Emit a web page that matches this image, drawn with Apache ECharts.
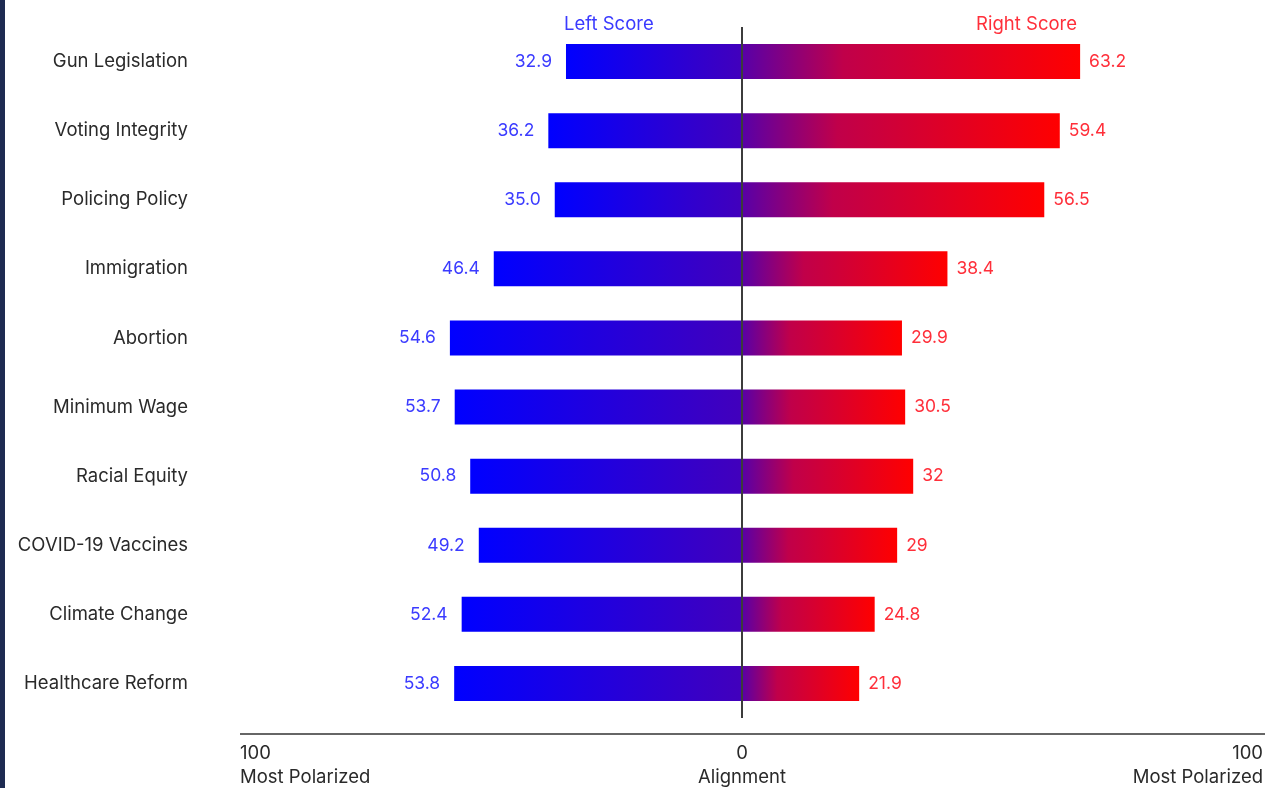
<!DOCTYPE html>
<html>
<head>
<meta charset="utf-8">
<title>Polarization by Issue</title>
<script src="https://cdn.jsdelivr.net/npm/echarts@6/dist/echarts.min.js"></script>
<style>
  html, body { margin: 0; padding: 0; background: #ffffff; }
  #chart { width: 1265px; height: 788px; }
</style>
</head>
<body>
<div id="chart"></div>
<script>
// Issues, top to bottom
const issues = [
  'Gun Legislation', 'Voting Integrity', 'Policing Policy', 'Immigration',
  'Abortion', 'Minimum Wage', 'Racial Equity', 'COVID-19 Vaccines',
  'Climate Change', 'Healthcare Reform'
];
// Left-leaning score per issue
const leftScores = [32.9, 36.2, 35.0, 46.4, 54.6, 53.7, 50.8, 49.2, 52.4, 53.8];
// Right-leaning score per issue
const rightScores = [63.2, 59.4, 56.5, 38.4, 29.9, 30.5, 32, 29, 24.8, 21.9];
// Bottom scale captions
const scaleEnds = ['100', 'Most Polarized'];
const scaleMid = ['0', 'Alignment'];

const FONT = 'Inter, "Noto Sans", sans-serif';
const BLUE_TEXT = '#3b3bff';
const RED_TEXT = '#ff2f3a';
const INK = '#2a2a2a';

const chart = echarts.init(document.getElementById('chart'), null, { renderer: 'canvas' });

const leftFill = new echarts.graphic.LinearGradient(0, 0, 1, 0, [
  { offset: 0, color: '#0000ff' },
  { offset: 1, color: '#4200bc' }
]);
const rightFill = new echarts.graphic.LinearGradient(0, 0, 1, 0, [
  { offset: 0, color: '#5800a8' },
  { offset: 0.3, color: '#c0004a' },
  { offset: 1, color: '#ff0000' }
]);

chart.setOption({
  animation: false,
  backgroundColor: '#ffffff',
  grid: { left: 207, width: 1070, top: 27, height: 691, containLabel: false, outerBoundsMode: 'none' },
  xAxis: {
    type: 'value', min: -100, max: 100,
    axisLine: { show: false }, axisTick: { show: false },
    axisLabel: { show: false }, splitLine: { show: false }
  },
  yAxis: {
    type: 'category', data: issues, inverse: true,
    axisLine: { show: false }, axisTick: { show: false },
    axisLabel: { margin: 19, color: INK, fontSize: 18.5, fontFamily: FONT }
  },
  series: [
    {
      name: 'Left Score', type: 'bar', stack: 'score', barWidth: 35,
      data: leftScores.map(v => -v),
      itemStyle: { color: leftFill },
      label: {
        show: true, position: 'left', distance: 14,
        color: BLUE_TEXT, fontSize: 17.5, fontFamily: FONT,
        formatter: p => Math.abs(p.value).toFixed(1)
      },
      markLine: {
        silent: true, symbol: 'none', label: { show: false },
        lineStyle: { color: '#3c3c3c', width: 2, type: 'solid' },
        data: [{ xAxis: 0 }]
      }
    },
    {
      name: 'Right Score', type: 'bar', stack: 'score', barWidth: 35,
      data: rightScores,
      itemStyle: { color: rightFill },
      label: {
        show: true, position: 'right', distance: 9,
        color: RED_TEXT, fontSize: 17.5, fontFamily: FONT,
        formatter: p => String(p.value)
      }
    }
  ],
  graphic: [
    // frame edge on the left
    { type: 'rect', left: 0, top: 0, shape: { width: 5, height: 788 }, style: { fill: '#1e2b52' } },
    // series headers
    { type: 'text', x: 564, y: 15, style: { text: 'Left Score', fill: BLUE_TEXT, font: '18.5px ' + FONT } },
    { type: 'text', x: 1077, y: 15, style: { text: 'Right Score', fill: RED_TEXT, font: '18.5px ' + FONT, align: 'right' } },
    // bottom scale
    { type: 'line', shape: { x1: 240, y1: 734, x2: 1265, y2: 734 }, style: { stroke: '#333333', lineWidth: 1.5 } },
    { type: 'text', x: 240, y: 741, style: { text: scaleEnds.join('\n'), fill: INK, font: '18.5px ' + FONT, lineHeight: 24, align: 'left' } },
    { type: 'text', x: 1263, y: 741, style: { text: scaleEnds.join('\n'), fill: INK, font: '18.5px ' + FONT, lineHeight: 24, align: 'right' } },
    { type: 'text', x: 742, y: 741, style: { text: scaleMid.join('\n'), fill: INK, font: '18.5px ' + FONT, lineHeight: 24, align: 'center' } }
  ]
});
</script>
</body>
</html>
